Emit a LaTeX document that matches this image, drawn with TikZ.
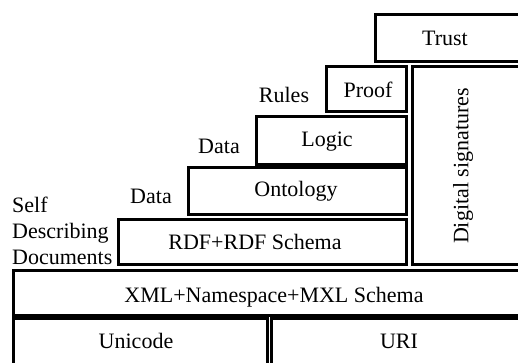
\documentclass[tikz,border=0pt]{standalone}
\usepackage{fontspec}
\setmainfont{Liberation Serif}
\usepackage{tikz}

\tikzset{
  layer/.style={draw=black, line width=3pt},
  lbl/.style={anchor=base, inner sep=0pt, font=\fontsize{22}{26}\selectfont},
}

\begin{document}
\begin{tikzpicture}[x=1pt,y=-1pt]
       \useasboundingbox (0,0) rectangle (518,362);
       \clip (0,0) rectangle (518,362);
       % the stack, bottom up
       \draw [layer] (13.5,318) rectangle (267.5,380) ;
       \draw [layer] (271.5,318) rectangle (530,380) ;
       \draw [layer] (13.5,270.5) rectangle (530,315.5) ;
       \draw [layer] (118.5,219) rectangle (406.5,264) ;
       \draw [layer] (188.5,167.5) rectangle (406.5,214.5) ;
       \draw [layer] (256,116.5) rectangle (406.5,164.5) ;
       \draw [layer] (326.5,66.5) rectangle (406.5,111) ;
       \draw [layer] (412.5,66.5) rectangle (530,264) ;
       \draw [layer] (375,14.5) rectangle (530,61.5) ;
       % layer names
       \node [lbl] (unicode) at (136,348) {Unicode} ;
       \node [lbl] (uri) at (399,348) {URI} ;
       \node [lbl] (xml) at (274,302) {XML+Namespace+MXL Schema} ;
       \node [lbl] (rdf) at (255,249) {RDF+RDF Schema} ;
       \node [lbl] (ontology) at (296,196) {Ontology} ;
       \node [lbl] (logic) at (327,146) {Logic} ;
       \node [lbl] (proof) at (368,97) {Proof} ;
       \node [lbl] (trust) at (445,45) {Trust} ;
       \node [lbl, anchor=center, rotate=90] (sig) at (463,166) {Digital signatures} ;
       % side notes
       \node [lbl] (rules) at (284,102) {Rules} ;
       \node [lbl] (data1) at (219,153) {Data} ;
       \node [lbl] (data2) at (151,203) {Data} ;
       \node [lbl, anchor=base west] (self) at (12,212) {Self} ;
       \node [lbl, anchor=base west] (descr) at (12,238) {Describing} ;
       \node [lbl, anchor=base west] (docs) at (12,264) {Documents} ;
\end{tikzpicture}
\end{document}
